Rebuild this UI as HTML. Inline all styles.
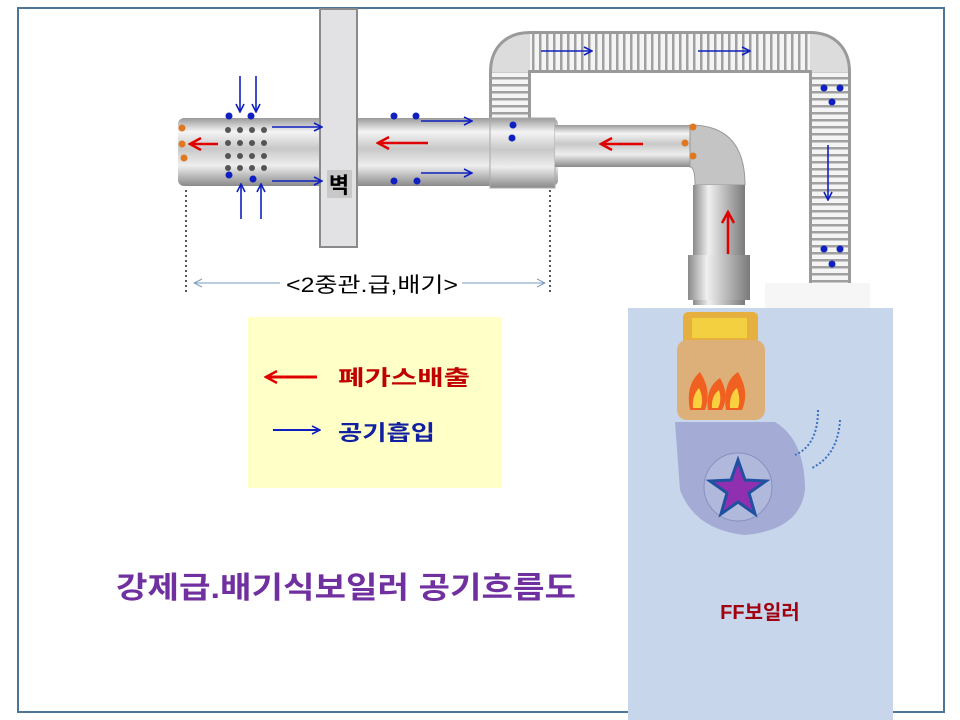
<!DOCTYPE html>
<html><head><meta charset="utf-8"><style>
html,body{margin:0;padding:0;background:#fff;}
svg{display:block;}
text{font-family:"Liberation Sans","Noto Sans CJK KR","NanumGothic",sans-serif;}
</style></head><body>
<svg width="960" height="720" viewBox="0 0 960 720" xmlns="http://www.w3.org/2000/svg">
<defs>
<linearGradient id="pipe" x1="0" y1="0" x2="0" y2="1">
<stop offset="0" stop-color="#9a9a9a"/><stop offset="0.2" stop-color="#f4f4f4"/><stop offset="0.45" stop-color="#c8c8c8"/><stop offset="0.7" stop-color="#eeeeee"/><stop offset="1" stop-color="#8a8a8a"/>
</linearGradient>
<linearGradient id="pipeV" x1="0" y1="0" x2="1" y2="0">
<stop offset="0" stop-color="#8a8a8a"/><stop offset="0.3" stop-color="#f0f0f0"/><stop offset="0.6" stop-color="#bdbdbd"/><stop offset="1" stop-color="#7a7a7a"/>
</linearGradient>
<pattern id="corrH" width="7" height="40" patternUnits="userSpaceOnUse"><rect width="7" height="40" fill="#f4f4f4"/><rect width="2.5" height="40" fill="#a0a0a0"/></pattern>
<pattern id="corrV" width="40" height="7" patternUnits="userSpaceOnUse"><rect width="40" height="7" fill="#f4f4f4"/><rect width="40" height="2.5" fill="#a0a0a0"/></pattern>
<marker id="ab" markerWidth="10" markerHeight="10" refX="9" refY="5" orient="auto" markerUnits="userSpaceOnUse"><path d="M1,1 L9,5 L1,9" fill="none" stroke="#1020c0" stroke-width="1.6"/></marker>
<marker id="ar" markerWidth="14" markerHeight="14" refX="12" refY="7" orient="auto" markerUnits="userSpaceOnUse"><path d="M1,1 L12,7 L1,13" fill="none" stroke="#e00000" stroke-width="2.5"/></marker>
<marker id="ag" markerWidth="10" markerHeight="10" refX="9" refY="5" orient="auto" markerUnits="userSpaceOnUse"><path d="M1,1 L9,5 L1,9" fill="none" stroke="#7a9ac0" stroke-width="1"/></marker>
</defs>
<rect x="18" y="8" width="926" height="704" fill="#fff" stroke="#4f7596" stroke-width="2"/>

<!-- corrugated duct -->
<path d="M510,125 L510,72 Q510,52 530,52 L810,52 Q830,52 830,72 L830,290" fill="none" stroke="#9a9a9a" stroke-width="42"/>
<path d="M510,125 L510,72 Q510,52 530,52 L810,52 Q830,52 830,72 L830,290" fill="none" stroke="#dcdcdc" stroke-width="36"/>
<rect x="492" y="72" width="36" height="53" fill="url(#corrV)"/>
<rect x="530" y="34" width="280" height="36" fill="url(#corrH)"/>
<rect x="812" y="72" width="36" height="213" fill="url(#corrV)"/>
<rect x="765" y="283" width="105" height="25" fill="#f6f6f6"/>

<!-- main pipe -->
<rect x="178" y="118" width="380" height="68" rx="6" fill="url(#pipe)"/>
<rect x="490" y="118" width="65" height="70" fill="url(#pipe)" stroke="#aaa"/>
<rect x="555" y="125" width="140" height="42" fill="url(#pipe)"/>
<path d="M690,125 Q745,125 745,185 L695,185 Q695,167 690,167 Z" fill="#c4c4c4" stroke="#999"/>
<rect x="693" y="185" width="52" height="120" fill="url(#pipeV)"/>
<rect x="688" y="255" width="62" height="45" fill="url(#pipeV)"/>
<g fill="#555">
<circle cx="228" cy="130" r="3"/><circle cx="240" cy="130" r="3"/><circle cx="252" cy="130" r="3"/><circle cx="264" cy="130" r="3"/>
<circle cx="228" cy="143" r="3"/><circle cx="240" cy="143" r="3"/><circle cx="252" cy="143" r="3"/><circle cx="264" cy="143" r="3"/>
<circle cx="228" cy="156" r="3"/><circle cx="240" cy="156" r="3"/><circle cx="252" cy="156" r="3"/><circle cx="264" cy="156" r="3"/>
<circle cx="228" cy="168" r="3"/><circle cx="240" cy="168" r="3"/><circle cx="252" cy="168" r="3"/><circle cx="264" cy="168" r="3"/>
</g>

<!-- wall -->
<rect x="320" y="9" width="37" height="238" fill="#e2e2e4" stroke="#8a8a8a" stroke-width="2"/>
<rect x="327" y="170" width="25" height="28" fill="#c8c8c8"/>
<text x="339" y="193" font-size="22" font-weight="bold" text-anchor="middle" fill="#000">벽</text>

<g fill="#1020c0">
<circle cx="229" cy="116" r="3.5"/><circle cx="251" cy="116" r="3.5"/><circle cx="229" cy="175" r="3.5"/><circle cx="253" cy="179" r="3.5"/>
<circle cx="394" cy="116" r="3.5"/><circle cx="416" cy="116" r="3.5"/><circle cx="394" cy="181" r="3.5"/><circle cx="417" cy="181" r="3.5"/>
<circle cx="513" cy="125" r="3.5"/><circle cx="512" cy="138" r="3.5"/>
<circle cx="824" cy="88" r="3.5"/><circle cx="840" cy="88" r="3.5"/><circle cx="832" cy="102" r="3.5"/>
<circle cx="824" cy="249" r="3.5"/><circle cx="840" cy="249" r="3.5"/><circle cx="832" cy="264" r="3.5"/>
</g>
<g fill="#e07820">
<circle cx="182" cy="128" r="3.5"/><circle cx="182" cy="144" r="3.5"/><circle cx="184" cy="158" r="3.5"/>
<circle cx="693" cy="127" r="3.5"/><circle cx="685" cy="143" r="3.5"/><circle cx="693" cy="156" r="3.5"/>
</g>

<g stroke="#1020c0" stroke-width="1.6" marker-end="url(#ab)">
<line x1="240" y1="76" x2="240" y2="112"/><line x1="256" y1="76" x2="256" y2="112"/>
<line x1="241" y1="219" x2="241" y2="184"/><line x1="261" y1="219" x2="261" y2="184"/>
<line x1="272" y1="127" x2="322" y2="127"/><line x1="272" y1="181" x2="322" y2="181"/>
<line x1="421" y1="121" x2="472" y2="121"/><line x1="421" y1="173" x2="472" y2="173"/>
<line x1="541" y1="51" x2="592" y2="51"/><line x1="698" y1="51" x2="750" y2="51"/>
<line x1="828" y1="145" x2="828" y2="200"/>
<line x1="811" y1="334" x2="811" y2="395"/><line x1="836" y1="334" x2="836" y2="395"/>
</g>
<g stroke="#e00000" stroke-width="2.5" marker-end="url(#ar)">
<line x1="218" y1="144" x2="190" y2="144"/>
<line x1="428" y1="143" x2="378" y2="143"/>
<line x1="643" y1="144" x2="601" y2="144"/>
<line x1="728" y1="254" x2="728" y2="212"/>
</g>

<line x1="186" y1="190" x2="186" y2="292" stroke="#556" stroke-width="2" stroke-dasharray="2,3"/>
<line x1="550" y1="190" x2="550" y2="292" stroke="#556" stroke-width="2" stroke-dasharray="2,3"/>
<line x1="280" y1="283" x2="194" y2="283" stroke="#7a9ac0" stroke-width="1" marker-end="url(#ag)"/>
<line x1="462" y1="283" x2="545" y2="283" stroke="#7a9ac0" stroke-width="1" marker-end="url(#ag)"/>
<text x="286" y="292" font-size="21" textLength="172" lengthAdjust="spacingAndGlyphs" fill="#000">&lt;2중관.급,배기&gt;</text>

<rect x="248" y="317" width="254" height="171" fill="#ffffc8"/>
<line x1="317" y1="377" x2="266" y2="377" stroke="#e00000" stroke-width="3" marker-end="url(#ar)"/>
<text x="338" y="385" font-size="21" font-weight="bold" textLength="132" lengthAdjust="spacingAndGlyphs" fill="#c00000">폐가스배출</text>
<line x1="273" y1="430" x2="320" y2="430" stroke="#1020c0" stroke-width="2" marker-end="url(#ab)"/>
<text x="338" y="440" font-size="21" font-weight="bold" textLength="97" lengthAdjust="spacingAndGlyphs" fill="#1020a0">공기흡입</text>

<text x="116" y="598" font-size="30" font-weight="bold" fill="#7030a0" textLength="460" lengthAdjust="spacingAndGlyphs">강제급.배기식보일러 공기흐름도</text>

<rect x="628" y="308" width="265" height="412" fill="#c7d6ea"/>
<rect x="683" y="312" width="75" height="35" rx="5" fill="#e6b040"/>
<rect x="692" y="318" width="55" height="20" fill="#f2d040"/>
<rect x="677" y="340" width="88" height="80" rx="10" fill="#ddb07a"/>
<g fill="#f06020"><path d="M690,410 Q685,385 700,372 Q712,390 705,410 Z"/><path d="M708,410 Q705,388 720,378 Q730,395 722,410 Z"/><path d="M726,410 Q722,382 738,372 Q750,392 742,410 Z"/></g>
<g fill="#f8d040"><path d="M693,408 Q692,395 699,388 Q704,398 701,408 Z"/><path d="M712,408 Q711,396 719,390 Q722,400 718,408 Z"/><path d="M730,408 Q729,394 737,388 Q741,400 738,408 Z"/></g>
<path d="M675,422 L775,422 Q805,440 805,490 Q800,530 745,535 Q695,530 680,490 Z" fill="#a4acd6"/>
<circle cx="738" cy="487" r="34" fill="#b0b8dc" stroke="#8890c0"/>
<polygon points="738,460 745,480 766,481 749,493 755,514 738,502 721,514 727,493 710,481 731,480" fill="#9030b0" stroke="#2050a0" stroke-width="3"/>
<path d="M818,410 Q818,445 795,455" fill="none" stroke="#3a70c0" stroke-width="2" stroke-dasharray="2,2"/>
<path d="M840,420 Q838,455 812,468" fill="none" stroke="#3a70c0" stroke-width="2" stroke-dasharray="2,2"/>
<text x="760" y="619" font-size="20" font-weight="bold" text-anchor="middle" fill="#a00010">FF보일러</text>
</svg>
</body></html>
